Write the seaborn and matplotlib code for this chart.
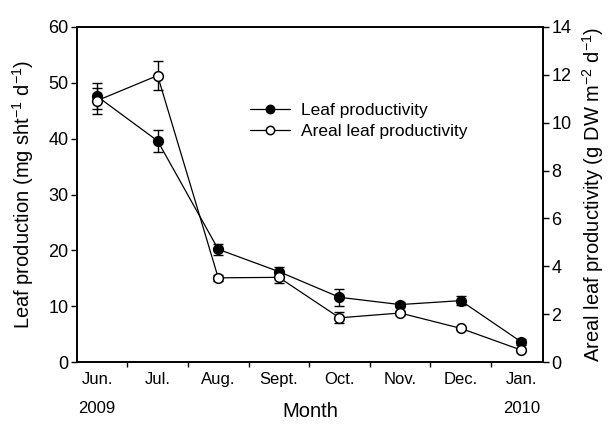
import numpy as np
import pandas as pd
import matplotlib
matplotlib.use("Agg")
import matplotlib.pyplot as plt
from matplotlib.lines import Line2D
import seaborn as sns

# ---- data ----
months = ['Jun.', 'Jul.', 'Aug.', 'Sept.', 'Oct.', 'Nov.', 'Dec.', 'Jan.']
years = {0: '2009', 7: '2010'}

# leaf productivity, mg sht-1 d-1 (left axis)
leaf_prod = [47.6, 39.6, 20.2, 16.2, 11.6, 10.3, 11.0, 3.6]
leaf_err = [2.3, 2.0, 1.0, 0.9, 1.5, 0.5, 0.8, 0.5]

# areal leaf productivity, g DW m-2 d-1 (right axis)
areal_prod = [10.92, 11.97, 3.52, 3.54, 1.85, 2.05, 1.41, 0.50]
areal_err = [0.54, 0.60, 0.12, 0.23, 0.23, 0.08, 0.06, 0.05]

df = pd.DataFrame({'pos': np.arange(len(months)), 'month': months,
                   'leaf': leaf_prod, 'leaf_err': leaf_err,
                   'areal': areal_prod, 'areal_err': areal_err})

# ---- style ----
sns.set_theme(style="ticks")
plt.rcParams['font.family'] = ['Liberation Sans', 'DejaVu Sans']
plt.rcParams['mathtext.default'] = 'regular'
for k in ('text.color', 'axes.labelcolor', 'xtick.color', 'ytick.color', 'axes.edgecolor'):
    plt.rcParams[k] = 'black'

fig = plt.figure(figsize=(6.11, 4.28), dpi=100)
ax = fig.add_axes([0.126, 0.154, 0.763, 0.783])
ax2 = ax.twinx()

line_kw = dict(color='black', linewidth=0.9, markersize=7, markeredgewidth=1.1,
               markeredgecolor='black')
err_kw = dict(fmt='none', ecolor='black', elinewidth=1.0, capsize=3.3, capthick=1.0)

# leaf productivity (filled)
ax.errorbar(df['pos'], df['leaf'], yerr=df['leaf_err'], zorder=2, **err_kw)
sns.lineplot(data=df, x='pos', y='leaf', ax=ax, marker='o',
             markerfacecolor='black', zorder=3, **line_kw)

# areal leaf productivity (open)
ax2.errorbar(df['pos'], df['areal'], yerr=df['areal_err'], zorder=2, **err_kw)
sns.lineplot(data=df, x='pos', y='areal', ax=ax2, marker='o',
             markerfacecolor='white', zorder=3, **line_kw)

# ---- axes ----
ax.set_xlim(-0.33, 7.36)
ax.set_ylim(0, 60)
ax2.set_ylim(0, 14)
ax.set_yticks(range(0, 61, 10))
ax2.set_yticks(range(0, 15, 2))

ax.set_xticks(df['pos'])
ax.set_xticklabels(months)
ax.set_xticks(df['pos'][:-1] + 0.5, minor=True)
ax.tick_params(axis='x', which='major', length=0, pad=7, labelsize=12)
ax.tick_params(axis='x', which='minor', length=3.5, width=1.0, direction='out')
ax.tick_params(axis='y', length=4, width=1.0, pad=2, labelsize=13)
ax2.tick_params(axis='y', length=4, width=1.0, pad=2, labelsize=13)

for i, yr in years.items():
    ax.text(i, -0.115, yr, transform=ax.get_xaxis_transform(),
            ha='center', va='top', fontsize=12)

ax.set_xlabel('Month', fontsize=14.5, labelpad=11)
ax.set_ylabel('Leaf production (mg sht$^{-1}$ d$^{-1}$)', fontsize=14.5, labelpad=9)
ax2.set_ylabel('Areal leaf productivity (g DW m$^{-2}$ d$^{-1}$)', fontsize=14.5,
               labelpad=6)

for a in (ax, ax2):
    for s in a.spines.values():
        s.set_visible(True)
        s.set_linewidth(1.2)

leg_kw = dict(line_kw, markersize=6)
handles = [Line2D([], [], marker='o', markerfacecolor='black', **leg_kw),
           Line2D([], [], marker='o', markerfacecolor='white', **leg_kw)]
ax2.legend(handles, ['Leaf productivity', 'Areal leaf productivity'],
           loc='center left', bbox_to_anchor=(0.372, 0.72), frameon=False,
           borderaxespad=0, borderpad=0, handlelength=2.3, handletextpad=0.6,
           labelspacing=0.35, fontsize=12.5)

fig.savefig('out.png', dpi=100)
